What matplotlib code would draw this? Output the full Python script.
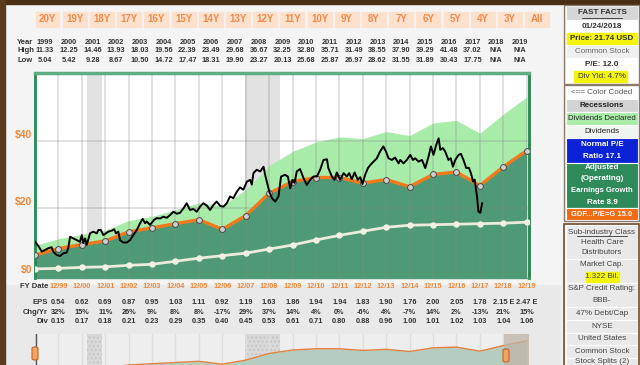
import matplotlib.pyplot as plt
import matplotlib.transforms as mtransforms
from matplotlib.patches import Rectangle, FancyBboxPatch
from matplotlib.lines import Line2D
import numpy as np

plt.rcParams['font.family'] = ['Liberation Sans', 'DejaVu Sans']

# ---------------- data ----------------
buttons = ['20Y', '19Y', '18Y', '17Y', '16Y', '15Y', '14Y', '13Y', '12Y', '11Y',
           '10Y', '9Y', '8Y', '7Y', '6Y', '5Y', '4Y', '3Y', 'All']

years = [str(y) for y in range(1999, 2020)]
high = ['11.33', '12.25', '14.46', '13.93', '18.03', '19.56', '22.39', '23.49', '29.68', '36.67',
        '32.25', '32.80', '35.71', '31.49', '38.55', '37.90', '39.29', '41.48', '37.02', 'N/A', 'N/A']
low = ['5.04', '5.42', '9.28', '8.67', '10.50', '14.72', '17.47', '18.31', '19.90', '23.27',
       '20.13', '25.68', '25.87', '26.97', '28.62', '31.55', '31.89', '30.43', '17.75', 'N/A', 'N/A']

fy_labels = ['12/99', '12/00', '12/01', '12/02', '12/03', '12/04', '12/05', '12/06', '12/07', '12/08',
             '12/09', '12/10', '12/11', '12/12', '12/13', '12/14', '12/15', '12/16', '12/17', '12/18', '12/19']
eps_txt = ['0.54', '0.62', '0.69', '0.87', '0.95', '1.03', '1.11', '0.92', '1.19', '1.63', '1.86',
           '1.94', '1.94', '1.83', '1.90', '1.76', '2.00', '2.05', '1.78', '2.15 E', '2.47 E']
chg_txt = ['32%', '15%', '11%', '26%', '9%', '8%', '8%', '-17%', '29%', '37%', '14%',
           '4%', '0%', '-6%', '4%', '-7%', '14%', '2%', '-13%', '21%', '15%']
div_txt = ['0.15', '0.17', '0.18', '0.21', '0.23', '0.29', '0.35', '0.40', '0.45', '0.53', '0.61',
           '0.71', '0.80', '0.88', '0.96', '1.00', '1.01', '1.02', '1.03', '1.04', '1.06']

# fiscal year ends 12/98 .. 12/19 (x = decimal calendar year)
fy_x = list(range(1999, 2021))
eps = [0.41, 0.54, 0.62, 0.69, 0.87, 0.95, 1.03, 1.11, 0.92, 1.19, 1.63,
       1.86, 1.94, 1.94, 1.83, 1.90, 1.76, 2.00, 2.05, 1.78, 2.15, 2.47]
divs = [0.14, 0.15, 0.17, 0.18, 0.21, 0.23, 0.29, 0.35, 0.40, 0.45, 0.53,
        0.61, 0.71, 0.80, 0.88, 0.96, 1.00, 1.01, 1.02, 1.03, 1.04, 1.06]
div_top = [9.0, 11.0, 12.3, 13.5, 16.4, 17.6, 19.6, 21.6, 20.8, 25.5, 32.6,
           36.8, 39.6, 41.1, 40.6, 42.7, 41.5, 45.2, 46.0, 42.2, 47.8, 52.9]
pe = 15.0

price_t = [1999.00, 1999.06, 1999.14, 1999.29, 1999.43, 1999.57, 1999.71, 1999.78, 1999.93, 2000.07,
           2000.21, 2000.35, 2000.42, 2000.50, 2000.64, 2000.78, 2000.92, 2001.00, 2001.06, 2001.14,
           2001.21, 2001.35, 2001.49, 2001.64, 2001.71, 2001.81, 2001.92, 2002.03, 2002.13, 2002.28,
           2002.38, 2002.46, 2002.56, 2002.63, 2002.77, 2002.92, 2003.06, 2003.20, 2003.35, 2003.49,
           2003.60, 2003.70, 2003.77, 2003.91, 2004.09, 2004.20, 2004.34, 2004.48, 2004.63, 2004.77,
           2004.91, 2005.06, 2005.20, 2005.34, 2005.48, 2005.62, 2005.76, 2005.91, 2006.05, 2006.19,
           2006.34, 2006.48, 2006.62, 2006.76, 2006.91, 2007.05, 2007.19, 2007.33, 2007.47, 2007.62,
           2007.76, 2007.90, 2008.05, 2008.19, 2008.26, 2008.33, 2008.47, 2008.62, 2008.76, 2008.83,
           2008.90, 2009.01, 2009.12, 2009.26, 2009.40, 2009.51, 2009.68, 2009.80, 2009.90, 2010.00,
           2010.09, 2010.18, 2010.32, 2010.47, 2010.61, 2010.75, 2010.89, 2011.04, 2011.18, 2011.32,
           2011.47, 2011.53, 2011.68, 2011.79, 2011.89, 2012.03, 2012.18, 2012.32, 2012.42, 2012.53,
           2012.65, 2012.79, 2012.89, 2012.99, 2013.10, 2013.22, 2013.32, 2013.46, 2013.60, 2013.74,
           2013.88, 2013.99, 2014.10, 2014.24, 2014.38, 2014.53, 2014.60, 2014.74, 2014.88, 2015.03,
           2015.14, 2015.24, 2015.38, 2015.53, 2015.67, 2015.81, 2015.91, 2016.02, 2016.14, 2016.24,
           2016.31, 2016.42, 2016.52, 2016.66, 2016.76, 2016.85, 2016.95, 2017.09, 2017.19, 2017.30,
           2017.42, 2017.53, 2017.62, 2017.71, 2017.78, 2017.88, 2017.94, 2018.02, 2018.10]
price_v = [10.1, 9.6, 8.9, 7.2, 7.7, 8.2, 8.5, 7.2, 6.2, 5.9,
           6.7, 6.9, 8.2, 11.6, 11.1, 10.6, 10.1, 12.1, 9.7, 11.1,
           9.2, 12.6, 13.1, 12.6, 13.6, 13.6, 12.1, 12.6, 13.1, 13.4,
           13.8, 12.6, 13.1, 10.6, 9.9, 9.9, 10.6, 12.1, 13.6, 15.6,
           16.9, 15.6, 16.1, 15.1, 16.6, 17.1, 17.0, 17.5, 17.2, 18.0,
           19.0, 18.4, 18.7, 20.0, 21.5, 19.5, 19.8, 19.0, 20.5, 21.5,
           20.8, 19.5, 21.0, 22.0, 20.7, 20.5, 21.5, 23.5, 23.0, 24.9,
           26.2, 25.5, 27.9, 28.4, 27.0, 30.4, 31.4, 30.9, 32.3, 29.9,
           27.9, 24.9, 23.0, 22.0, 23.5, 29.4, 29.9, 29.4, 25.9, 28.4,
           27.5, 30.9, 31.6, 28.9, 26.9, 28.4, 29.4, 29.4, 31.4, 34.3,
           34.5, 31.9, 29.4, 28.4, 30.6, 28.4, 30.4, 29.4, 30.4, 28.6,
           30.6, 28.4, 29.2, 27.2, 29.9, 31.9, 32.8, 33.8, 34.8, 36.8,
           38.3, 36.8, 34.8, 34.3, 35.0, 33.3, 34.3, 33.3, 34.3, 35.8,
           34.3, 34.8, 33.8, 34.3, 31.9, 35.3, 38.3, 35.8, 38.8, 40.7,
           37.3, 37.8, 36.8, 34.3, 34.8, 32.3, 34.3, 35.8, 36.1, 34.3,
           31.9, 32.0, 30.4, 27.9, 28.5, 23.5, 19.0, 18.7, 21.5]

recessions = [(2001.2, 2001.88), (2007.95, 2009.45)]

# ---------------- figure ----------------
W, H = 640, 365
fig = plt.figure(figsize=(6.4, 3.65), dpi=100)
fig.patch.set_facecolor('#f4f4f4')


def fx(px):
    return px / W


def fy(py):
    return 1 - py / H


def frect(x0, y0, x1, y1, **kw):
    fig.patches.append(Rectangle((fx(x0), fy(y1)), (x1 - x0) / W, (y1 - y0) / H,
                                 transform=fig.transFigure, **kw))


# frame of the screenshot
frect(5, 285, 560, 365, color='#e9e9e9', zorder=-2)
frect(0, 0, 640, 4, color='#4a2e14', zorder=-1)
frect(0, 0, 5, 365, color='#5c3b1d', zorder=-1)

GREEN_D = '#4f9a76'
GREEN_L = '#a9eba9'
ORANGE = '#f27a1c'

ax = fig.add_axes([fx(35), fy(278), (529 - 35) / W, (278 - 73) / H])
ax.set_facecolor('white')
ax.set_xlim(1999, 2020.1)
ax.set_ylim(-0.6, 60)

for a, b in recessions:
    ax.axvspan(a, b, color='#e2e2e2', zorder=0, lw=0)

orange = np.array(eps) * pe
white = np.array(divs) * pe
ax.fill_between(fy_x, -0.6, orange, color=GREEN_D, lw=0, zorder=2)
ax.fill_between(fy_x, orange, div_top, color=GREEN_L, lw=0, zorder=2)

for x in range(1999, 2021):
    ax.axvline(x, color='#8a8a8a', alpha=0.3, lw=1.2, zorder=3)
for y in (20, 40):
    ax.axhline(y, color='#8a8a8a', alpha=0.3, lw=1.2, zorder=3)

ax.plot(fy_x, white, color='#ecebdc', lw=2, marker='o', ms=3.6,
        mfc='#f2f1e6', mec='#f2f1e6', zorder=4)
ax.plot(fy_x, orange, color=ORANGE, lw=2.4, zorder=5)
ax.plot(fy_x, orange, ls='none', marker='o', ms=4.2, mfc='#cfcfcf', mec='#4a4a4a',
        mew=0.7, zorder=6)
ax.plot(price_t, price_v, color='black', lw=1.4, zorder=7)

ax.set_xticks([])
ax.set_yticks([])
ax.spines['left'].set_color('#23834b')
ax.spines['left'].set_linewidth(2)
ax.spines['right'].set_color('#23834b')
ax.spines['right'].set_linewidth(2)
ax.spines['top'].set_color('#5fae82')
ax.spines['top'].set_linewidth(2.5)
ax.spines['bottom'].set_color(GREEN_D)
ax.spines['bottom'].set_linewidth(1)

ylab_tr = mtransforms.blended_transform_factory(ax.transAxes, ax.transData)
for v in (0, 20, 40):
    ax.text(-0.006, v + 1.8, f'${v}', transform=ylab_tr, ha='right', va='center',
            color='#f0883a', fontsize=7.5, fontweight='bold')

# ---------------- range buttons ----------------
for i, lab in enumerate(buttons):
    cx = 47.5 + i * 27.2
    frect(cx - 12, 12, cx + 12, 27, color='#fde1cd', zorder=1)
    fig.text(fx(cx), fy(19.5), lab, ha='center', va='center', color='#f28a4c',
             fontsize=7, fontweight='bold')

# ---------------- top table ----------------
TXT = '#333333'
for lab, py in (('Year', 42), ('High', 51), ('Low', 60)):
    fig.text(fx(17), fy(py), lab, ha='left', va='center', color=TXT,
             fontsize=5.5, fontweight='bold')
for i in range(len(years)):
    cx = 45 + i * 23.75
    for row, py in ((years, 42), (high, 51), (low, 60)):
        fig.text(fx(cx), fy(py), row[i], ha='center', va='center', color=TXT,
                 fontsize=5.3, fontweight='bold')

# ---------------- bottom table ----------------
col_tr = mtransforms.blended_transform_factory(ax.transData, fig.transFigure)
for lab, py in (('FY Date', 287), ('EPS', 303), ('Chg/Yr', 312.5), ('Div', 321.5)):
    fig.text(fx(48), fy(py), lab, ha='right', va='center', color=TXT,
             fontsize=5.5, fontweight='bold')
for i in range(len(fy_labels)):
    x = fy_x[i + 1]
    fig.text(x, fy(287), fy_labels[i], transform=col_tr, ha='center', va='center',
             color='#f0883a', fontsize=5.3, fontweight='bold')
    for row, py in ((eps_txt, 303), (chg_txt, 312.5), (div_txt, 321.5)):
        fig.text(x, fy(py), row[i], transform=col_tr, ha='center', va='center',
                 color=TXT, fontsize=5.3, fontweight='bold')

# ---------------- navigator ----------------
axn = fig.add_axes([fx(35), 0, (529 - 35) / W, (365 - 334) / H])
axn.set_facecolor('#eeeeee')
axn.set_xlim(1999, 2020.1)
axn.set_ylim(13, 43.75)
for a, b in recessions:
    axn.axvspan(a, b, facecolor='#d9d9d9', hatch='....', edgecolor='#c6c6c6', lw=0, zorder=0)
for x in range(1999, 2021):
    axn.axvline(x, color='#dddddd', lw=1, zorder=1)
axn.fill_between(fy_x, 0, orange, color='#b4cdbf', lw=0, zorder=2)
axn.plot(fy_x, orange, color='#e0823e', lw=1, zorder=3)
axn.axvspan(2019.05, 2020.1, color='#bfb4a6', alpha=0.75, lw=0, zorder=4)
axn.axvline(1999.05, color='#555555', lw=1, zorder=5)
axn.set_xticks([])
axn.set_yticks([])
for s in axn.spines.values():
    s.set_visible(False)

for x0, y0 in ((32, 347), (503, 349)):
    fig.patches.append(FancyBboxPatch((fx(x0), fy(y0 + 13)), 6 / W, 13 / H,
                                      boxstyle='round,pad=0,rounding_size=0.004',
                                      transform=fig.transFigure, facecolor='#f4a261',
                                      edgecolor='#c0652a', lw=0.8, zorder=6))

# ---------------- right panel ----------------
PX0, PX1 = 566, 638
FS = 5.8


def cell(y0, y1, bg):
    frect(PX0, y0, PX1, y1, facecolor=bg, edgecolor='white', lw=0.8, zorder=1)


def ptext(py, s, color='#333333', weight='normal', size=FS):
    fig.text(fx((PX0 + PX1) / 2), fy(py), s, ha='center', va='center', color=color,
             fontsize=size, fontweight=weight, zorder=3)


def underline(py, half):
    cx = (PX0 + PX1) / 2
    fig.lines.append(Line2D([fx(cx - half), fx(cx + half)], [fy(py), fy(py)],
                            transform=fig.transFigure, color='#333333', lw=0.6))


# box 1: fast facts
cell(6, 20, '#d6d6d6')
ptext(13, 'FAST FACTS', weight='bold')
underline(17.5, 20)
cell(20, 32, 'white')
ptext(26, '01/24/2018', weight='bold')
cell(32, 45, 'white')
frect(567, 33, 637, 44, color='#f4f40a', zorder=2)
ptext(38.5, 'Price: 21.74 USD', weight='bold')
cell(45, 58, '#efefef')
ptext(51.5, 'Common Stock', color='#666666')
cell(58, 70, 'white')
ptext(64, 'P/E: 12.0', weight='bold')
cell(70, 83, 'white')
frect(574, 71, 627, 82, color='#f4f40a', zorder=2)
ptext(76.5, 'Div Yld: 4.7%')
frect(564, 5, 639, 84, facecolor='none', edgecolor='#8c7b6b', lw=1, zorder=4)

# box 2: legend
cell(86, 99, 'white')
ptext(92.5, '<== Color Coded', color='#555555')
cell(99, 112, '#d3d3d3')
ptext(105.5, 'Recessions', weight='bold', color='#222222')
cell(112, 125, GREEN_L)
ptext(118.5, 'Dividends Declared', color='#222222', size=5.6)
cell(125, 138, '#eef6ee')
ptext(131.5, 'Dividends', color='#222222')
cell(138, 163, '#0b22d6')
ptext(144.5, 'Normal P/E', color='white', weight='bold')
ptext(156.5, 'Ratio 17.1', color='white', weight='bold')
cell(163, 208, '#2f8a5a')
ptext(167.5, 'Adjusted', color='white', weight='bold')
ptext(179, '(Operating)', color='white', weight='bold')
ptext(191, 'Earnings Growth', color='white', weight='bold', size=5.5)
ptext(202.5, 'Rate 8.9', color='white', weight='bold')
cell(208, 220, '#f26a12')
ptext(214, 'GDF...P/E=G 15.0', color='white', weight='bold', size=5.5)
frect(564, 85, 639, 221, facecolor='none', edgecolor='#8c7b6b', lw=1, zorder=4)

# box 3: company info
groups = [(225, 259, [(232, 'Sub-industry Class'), (242.5, 'Health Care'), (253, 'Distributors')]),
          (259, 283, [(265, 'Market Cap.'), (277, '1.322 Bil.')]),
          (283, 307, [(289, 'S&P Credit Rating:'), (301, 'BBB-')]),
          (307, 320, [(313.5, '47% Debt/Cap')]),
          (320, 333, [(326.5, 'NYSE')]),
          (333, 345, [(339, 'United States')]),
          (345, 358, [(351.5, 'Common Stock')]),
          (358, 370, [(361.5, 'Stock Splits (2)')])]
for y0, y1, items in groups:
    cell(y0, y1, '#e9e9e9')
    for py, s in items:
        if s == '1.322 Bil.':
            frect(586, 272, 619, 282, color='#f4f40a', zorder=2)
        ptext(py, s, color='#444444')
underline(236, 25)
frect(564, 224, 639, 372, facecolor='none', edgecolor='#6e4d2c', lw=1.2, zorder=4)

fig.savefig('out.png', dpi=100, facecolor=fig.get_facecolor())
